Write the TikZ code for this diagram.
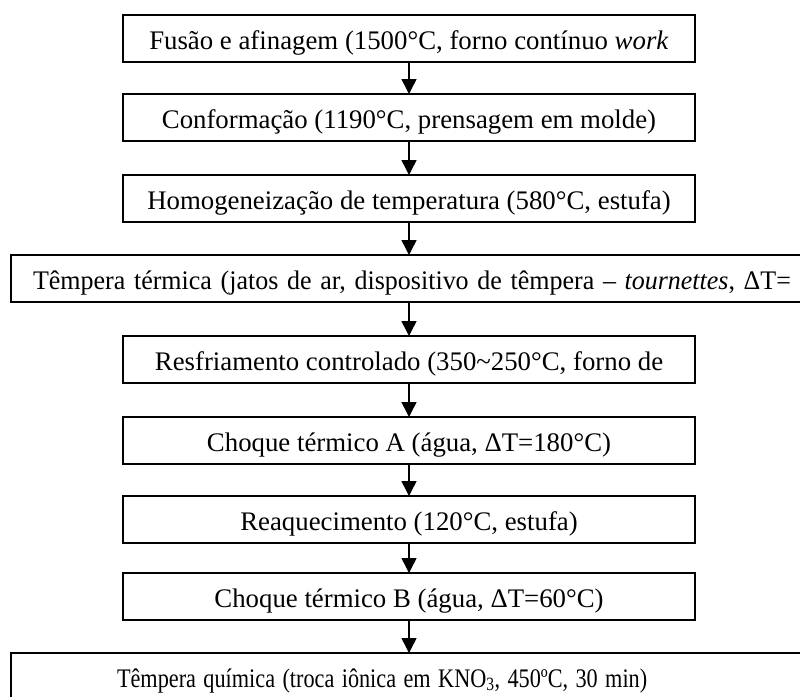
\documentclass[tikz,border=0pt]{standalone}
\usepackage{fontspec}
\setmainfont{Liberation Serif}
\usetikzlibrary{arrows.meta}
\tikzset{
  stepbox/.style={draw, line width=1.6pt, anchor=north west, minimum height=47pt,
    inner sep=0pt, outer sep=0pt, text height=21pt, text depth=0pt,
    font=\fontsize{26.8}{30}\selectfont},
  flow/.style={-{Triangle[width=15pt,length=15pt]}, line width=1.5pt},
}
\begin{document}
\begin{tikzpicture}[x=1pt,y=-1pt]
    \useasboundingbox (0,0) rectangle (800,696);
    % process boxes with absolute coordinates (top left corner)
    \node[stepbox, minimum width=572pt] (fus) at (123,15) {Fusão e afinagem (1500°C, forno contínuo \textit{work}};
    \node[stepbox, minimum width=572pt] (conf) at (123,94) {Conformação (1190°C, prensagem em molde)};
    \node[stepbox, minimum width=572pt] (homog) at (123,175) {Homogeneização de temperatura (580°C, estufa)};
    \node[stepbox, text width=765pt, align=left, inner xsep=22pt] (tterm) at (11,255) {\scalebox{0.97}[1]{Têmpera térmica (jatos de ar, dispositivo de têmpera – \textit{tournettes}, ΔT=}};
    \node[stepbox, minimum width=572pt] (resf) at (123,336) {Resfriamento controlado (350\textasciitilde 250°C, forno de};
    \node[stepbox, minimum width=572pt] (choqa) at (123,417) {Choque térmico A (água, ΔT=180°C)};
    \node[stepbox, minimum width=572pt] (reaq) at (123,496) {Reaquecimento (120°C, estufa)};
    \node[stepbox, minimum width=572pt] (choqb) at (123,573) {Choque térmico B (água, ΔT=60°C)};
    \node[stepbox, text width=597pt, align=left, inner xsep=106pt] (tquim) at (11,653) {\scalebox{0.83}[1]{Têmpera química (troca iônica em KNO\textsubscript{3}, 450ºC, 30 min)}};
    % flow arrows
    \path[flow] (fus.south) edge (conf.north);
    \path[flow] (conf.south) edge (homog.north);
    \path[flow] (homog.south) edge (homog.south |- tterm.north);
    \path[flow] (resf.north |- tterm.south) edge (resf.north);
    \path[flow] (resf.south) edge (choqa.north);
    \path[flow] (choqa.south) edge (reaq.north);
    \path[flow] (reaq.south) edge (choqb.north);
    \path[flow] (choqb.south) edge (choqb.south |- tquim.north);
\end{tikzpicture}
\end{document}
